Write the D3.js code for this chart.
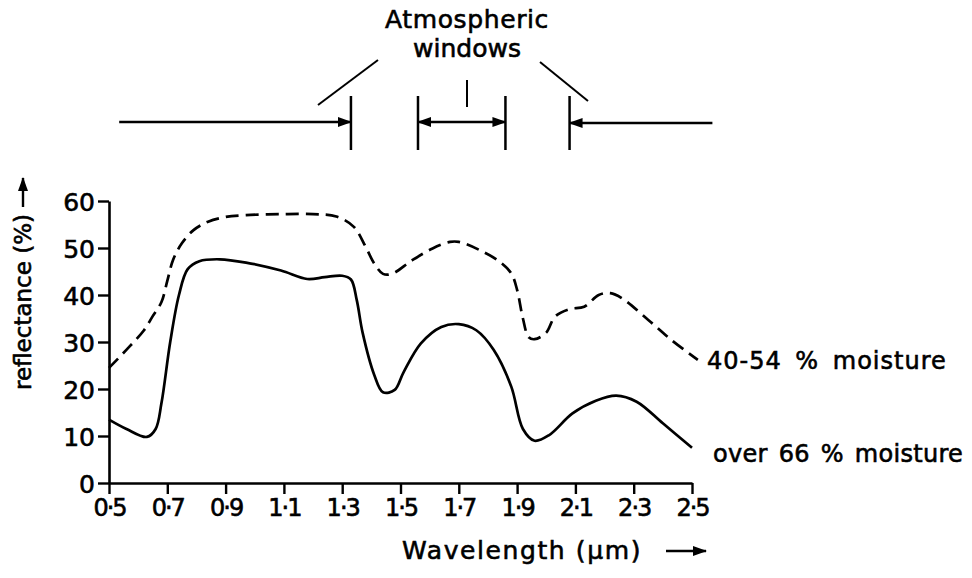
<!DOCTYPE html>
<html>
<head>
<meta charset="utf-8">
<script src="https://cdn.jsdelivr.net/npm/d3@7"></script>
<style>
  html, body { margin: 0; padding: 0; background: #fff; }
  svg { display: block; }
  text { font-family: "DejaVu Sans", sans-serif; fill: #000; stroke: #000; stroke-width: 0.6px; }
</style>
</head>
<body>
<svg id="chart" width="972" height="578"></svg>
<script>
// Axis ticks
const xTicks = [0.5, 0.7, 0.9, 1.1, 1.3, 1.5, 1.7, 1.9, 2.1, 2.3, 2.5];
const xTickLabels = ["0·5", "0·7", "0·9", "1·1", "1·3", "1·5", "1·7", "1·9", "2·1", "2·3", "2·5"];
const yTicks = [0, 10, 20, 30, 40, 50, 60];

// Reflectance of soil, 40-54 % moisture (dashed)
const moistWavelength = [0.50, 0.57, 0.62, 0.65, 0.68, 0.70, 0.72, 0.75, 0.79, 0.84, 0.90, 0.97, 1.09, 1.20, 1.28, 1.34, 1.38, 1.41, 1.44, 1.47, 1.54, 1.61, 1.67, 1.70, 1.77, 1.84, 1.88, 1.90, 1.92, 1.94, 1.96, 2.00, 2.03, 2.08, 2.13, 2.18, 2.22, 2.26, 2.35, 2.43, 2.52];
const moistReflectance = [24.5, 29, 32.5, 35.5, 38.5, 43, 47.5, 51, 53.8, 55.6, 56.6, 57, 57.2, 57.2, 56.7, 54.5, 50.3, 46.7, 44.5, 44.5, 47.4, 49.9, 51.3, 51.3, 49.6, 47.1, 44.6, 41.1, 35, 31, 30.6, 32, 35.4, 37, 37.5, 40, 40.4, 39.3, 34.7, 30.4, 26.2];

// Reflectance of soil, over 66 % moisture (solid)
const wetWavelength = [0.50, 0.56, 0.63, 0.66, 0.68, 0.71, 0.74, 0.77, 0.81, 0.88, 0.97, 1.09, 1.18, 1.24, 1.30, 1.33, 1.35, 1.37, 1.41, 1.44, 1.48, 1.51, 1.57, 1.64, 1.70, 1.76, 1.82, 1.88, 1.92, 1.96, 2.01, 2.09, 2.17, 2.24, 2.31, 2.40, 2.50];
const wetReflectance = [13.5, 11.5, 9.8, 11.5, 17, 30, 40, 45.5, 47.2, 47.6, 46.9, 45.2, 43.4, 43.8, 44.1, 43.3, 38.9, 32, 23, 19.3, 19.8, 23.5, 29.7, 33.2, 33.8, 32.5, 28.3, 20.5, 11.5, 9.0, 10.2, 14.8, 17.5, 18.6, 17.3, 12.7, 7.5];

// Atmospheric window edges (µm) and the extent of the blocked-band arrows
const windowEdges = [1.33, 1.56, 1.86, 2.08];
const arrowExtent = [0.535, 2.57];

const seriesLabels = ["40-54 % moisture", "over 66 % moisture"];

const svg = d3.select("#chart");
svg.append("rect").attr("width", 972).attr("height", 578).attr("fill", "#fff");

const x = d3.scaleLinear().domain([0.5, 2.5]).range([109, 692]);
const y = d3.scaleLinear().domain([0, 60]).range([483, 201]);

const ink = "#000";

// Arrowhead
const defs = svg.append("defs");
defs.append("marker")
  .attr("id", "head")
  .attr("viewBox", "0 0 14 10")
  .attr("refX", 13).attr("refY", 5)
  .attr("markerWidth", 14).attr("markerHeight", 10)
  .attr("markerUnits", "userSpaceOnUse")
  .attr("orient", "auto-start-reverse")
  .append("path").attr("d", "M0,0 L14,5 L0,10 Z").attr("fill", ink);

// Axes
const xAxis = d3.axisBottom(x)
  .tickValues(xTicks)
  .tickFormat((d, i) => xTickLabels[i])
  .tickSize(11).tickSizeOuter(0).tickPadding(5);
const yAxis = d3.axisLeft(y)
  .tickValues(yTicks)
  .tickSize(11).tickSizeOuter(0).tickPadding(3);

const gx = svg.append("g").attr("transform", `translate(0,${y(0)})`).call(xAxis);
const gy = svg.append("g").attr("transform", `translate(${x(0.5)},0)`).call(yAxis);

[gx, gy].forEach(g => {
  g.select(".domain").attr("stroke", ink).attr("stroke-width", 2.6);
  g.selectAll(".tick line").attr("stroke", ink).attr("stroke-width", 2.4);
  g.selectAll(".tick text")
    .attr("fill", ink)
    .attr("stroke", ink).attr("stroke-width", 0.6)
    .style("font-family", '"DejaVu Sans", sans-serif');
});
gx.selectAll(".tick text").style("font-size", "24px").style("letter-spacing", "-2px");
gy.selectAll(".tick text").style("font-size", "25px").attr("dy", "0.36em");

// Curves
const line = d3.line()
  .x(d => x(d[0]))
  .y(d => y(d[1]))
  .curve(d3.curveCatmullRom.alpha(0.5));

const moist = moistWavelength.map((w, i) => [w, moistReflectance[i]]);
const wet = wetWavelength.map((w, i) => [w, wetReflectance[i]]);

svg.append("path").datum(moist)
  .attr("d", line)
  .attr("fill", "none").attr("stroke", ink)
  .attr("stroke-width", 2.7)
  .attr("stroke-dasharray", "13,7");

svg.append("path").datum(wet)
  .attr("d", line)
  .attr("fill", "none").attr("stroke", ink)
  .attr("stroke-width", 2.7);

// Series labels
svg.append("text")
  .attr("x", 707).attr("y", 369)
  .style("font-size", "24px").style("letter-spacing", "1px").style("word-spacing", "5px")
  .text(seriesLabels[0]);
svg.append("text")
  .attr("x", 713).attr("y", 462)
  .style("font-size", "24px").style("letter-spacing", "0.3px").style("word-spacing", "3px")
  .text(seriesLabels[1]);

// Axis titles
const yTitle = svg.append("g").attr("transform", "translate(31,302) rotate(-90)");
yTitle.append("text")
  .attr("text-anchor", "middle")
  .style("font-size", "23px")
  .text("reflectance (%)");
svg.append("line")
  .attr("x1", 23).attr("x2", 23).attr("y1", 207).attr("y2", 178)
  .attr("stroke", ink).attr("stroke-width", 2.4)
  .attr("marker-end", "url(#head)");

svg.append("text")
  .attr("x", 402).attr("y", 559)
  .style("font-size", "25px").style("letter-spacing", "1.6px")
  .text("Wavelength (\u03bcm)");
svg.append("line")
  .attr("x1", 666).attr("x2", 706).attr("y1", 551).attr("y2", 551)
  .attr("stroke", ink).attr("stroke-width", 2.4)
  .attr("marker-end", "url(#head)");

// Atmospheric windows annotation
const ann = svg.append("g").attr("stroke", ink).attr("stroke-width", 2.5);
const barTop = 96, barBottom = 150, arrowY = 122;

windowEdges.forEach(w => {
  ann.append("line")
    .attr("x1", x(w)).attr("x2", x(w))
    .attr("y1", barTop).attr("y2", barBottom);
});
ann.append("line")
  .attr("x1", x(arrowExtent[0])).attr("x2", x(windowEdges[0]))
  .attr("y1", arrowY).attr("y2", arrowY)
  .attr("marker-end", "url(#head)");
ann.append("line")
  .attr("x1", x(windowEdges[1])).attr("x2", x(windowEdges[2]))
  .attr("y1", arrowY).attr("y2", arrowY)
  .attr("marker-start", "url(#head)")
  .attr("marker-end", "url(#head)");
ann.append("line")
  .attr("x1", x(arrowExtent[1])).attr("x2", x(windowEdges[3]))
  .attr("y1", arrowY + 1).attr("y2", arrowY + 1)
  .attr("marker-end", "url(#head)");

// Leader lines from the caption
const leaders = [
  [[318, 105], [378, 60]],
  [[467, 80], [467, 107]],
  [[540, 62], [588, 101]]
];
leaders.forEach(([a, b]) => {
  ann.append("line")
    .attr("x1", a[0]).attr("y1", a[1])
    .attr("x2", b[0]).attr("y2", b[1])
    .attr("stroke-width", 2);
});

// Caption, two lines
const caption = svg.append("text")
  .attr("text-anchor", "middle")
  .style("font-size", "25px");
caption.append("tspan")
  .attr("x", 467).attr("y", 28)
  .style("letter-spacing", "0.6px")
  .text("Atmospheric");
caption.append("tspan")
  .attr("x", 467).attr("y", 57)
  .text("windows");
</script>
</body>
</html>
